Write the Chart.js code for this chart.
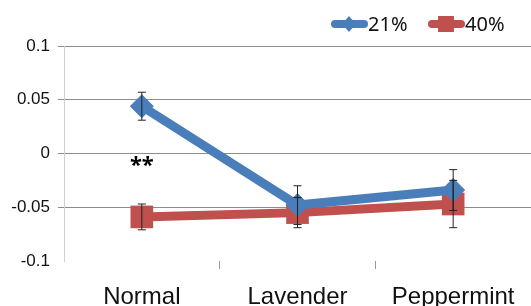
<!DOCTYPE html>
<html>
<head>
<meta charset="utf-8">
<script src="https://cdn.jsdelivr.net/npm/chart.js@4"></script>
<style>
  html, body { margin: 0; padding: 0; background: #fff; }
  #wrap { width: 531px; height: 306px; }
</style>
</head>
<body>
<div id="wrap"><canvas id="oxyChart" width="531" height="306"></canvas></div>
<script>
// data
var categories = ['Normal', 'Lavender', 'Peppermint'];
var seriesNames = ['21%', '40%'];
var values21 = [0.044, -0.048, -0.034];
var errors21 = [0.013, 0.018, 0.019];
var values40 = [-0.059, -0.055, -0.047];
var errors40 = [0.012, 0.014, 0.022];
var yTicks = [0.1, 0.05, 0, -0.05, -0.1];
var notes = [{ index: 0, value: -0.004, text: '**' }];

var blue = '#4A7EBB';
var red = '#C0504D';

// error bars + "**" note, drawn through the chart scales
var errorBarPlugin = {
    id: 'errorBars',
    afterDatasetsDraw: function (chart) {
        var ctx = chart.ctx;
        var x = chart.scales.x, y = chart.scales.y;
        ctx.save();
        ctx.strokeStyle = '#222';
        ctx.lineWidth = 1;
        chart.data.datasets.forEach(function (ds) {
            ds.errors.forEach(function (e, i) {
                var px = x.getPixelForValue(i);
                var top = y.getPixelForValue(ds.data[i] + e);
                var bot = y.getPixelForValue(ds.data[i] - e);
                ctx.beginPath();
                ctx.moveTo(px, top); ctx.lineTo(px, bot);
                ctx.moveTo(px - 4, top); ctx.lineTo(px + 4, top);
                ctx.moveTo(px - 4, bot); ctx.lineTo(px + 4, bot);
                ctx.stroke();
            });
        });
        ctx.fillStyle = '#000';
        ctx.font = 'bold 22px "Noto Sans"';
        ctx.textAlign = 'center';
        ctx.textBaseline = 'middle';
        notes.forEach(function (n) {
            ctx.fillText(n.text, x.getPixelForValue(n.index), y.getPixelForValue(n.value) + 8);
        });
        ctx.restore();
    }
};

// legend at top right: thick line with marker, then label
var legendPlugin = {
    id: 'lineLegend',
    afterDraw: function (chart) {
        var ctx = chart.ctx;
        var items = [
            { x: 331, color: blue, style: 'diamond', text: seriesNames[0] },
            { x: 428, color: red, style: 'square', text: seriesNames[1] }
        ];
        ctx.save();
        items.forEach(function (it) {
            var cy = 24;
            ctx.strokeStyle = it.color;
            ctx.lineWidth = 8;
            ctx.lineCap = 'round';
            ctx.beginPath();
            ctx.moveTo(it.x + 4, cy); ctx.lineTo(it.x + 33, cy);
            ctx.stroke();
            ctx.fillStyle = it.color;
            var mx = it.x + 18;
            ctx.beginPath();
            if (it.style === 'diamond') {
                ctx.moveTo(mx, cy - 8); ctx.lineTo(mx + 7, cy); ctx.lineTo(mx, cy + 8); ctx.lineTo(mx - 7, cy);
            } else {
                ctx.rect(mx - 8, cy - 8, 16, 16);
            }
            ctx.closePath();
            ctx.fill();
            ctx.fillStyle = '#111';
            ctx.font = '20px "Noto Sans"';
            ctx.textBaseline = 'middle';
            ctx.fillText(it.text, it.x + 37, cy + 1);
        });
        ctx.restore();
    }
};

var oxyChart = new Chart(document.getElementById('oxyChart').getContext('2d'), {
    type: 'line',
    data: {
        labels: categories,
        datasets: [{
            label: seriesNames[0],
            data: values21,
            errors: errors21,
            borderColor: blue,
            backgroundColor: blue,
            borderWidth: 9,
            pointStyle: 'rectRot',
            pointRadius: 12,
            pointBorderWidth: 0,
            pointBackgroundColor: blue
        }, {
            label: seriesNames[1],
            data: values40,
            errors: errors40,
            borderColor: red,
            backgroundColor: red,
            borderWidth: 9,
            pointStyle: 'rect',
            pointRadius: 16,
            pointBorderWidth: 0,
            pointBackgroundColor: red
        }]
    },
    options: {
        responsive: false,
        animation: false,
        layout: { autoPadding: false, padding: { top: 46, right: 0, left: 0, bottom: 0 } },
        plugins: { legend: { display: false }, tooltip: { enabled: false } },
        scales: {
            x: {
                offset: true,
                grid: {
                    offset: true,
                    drawOnChartArea: false,
                    tickLength: 8,
                    color: function (c) {
                        return (c.index === 0 || c.index === categories.length) ? 'rgba(0,0,0,0)' : '#999';
                    }
                },
                border: { display: false },
                ticks: { color: '#111', font: { size: 24, family: 'Liberation Sans' }, padding: 14 },
                afterFit: function (s) { s.height = 45; s.paddingLeft = 0; s.paddingRight = 0; }
            },
            y: {
                min: -0.1,
                max: 0.1,
                afterBuildTicks: function (s) {
                    s.ticks = yTicks.map(function (v) { return { value: v }; });
                },
                grid: { color: function (c) { return c.tick.value === -0.1 ? 'rgba(0,0,0,0)' : '#8c8c8c'; }, tickLength: 6 },
                border: { display: true, color: '#d0d0d0' },
                ticks: {
                    color: '#111',
                    font: { size: 17, family: 'Liberation Sans' },
                    padding: 8,
                    callback: function (v) { return String(Math.round(v * 100) / 100); }
                },
                afterFit: function (s) { s.width = 64; s.paddingTop = 0; s.paddingBottom = 0; }
            }
        }
    },
    plugins: [errorBarPlugin, legendPlugin]
});
</script>
</body>
</html>
